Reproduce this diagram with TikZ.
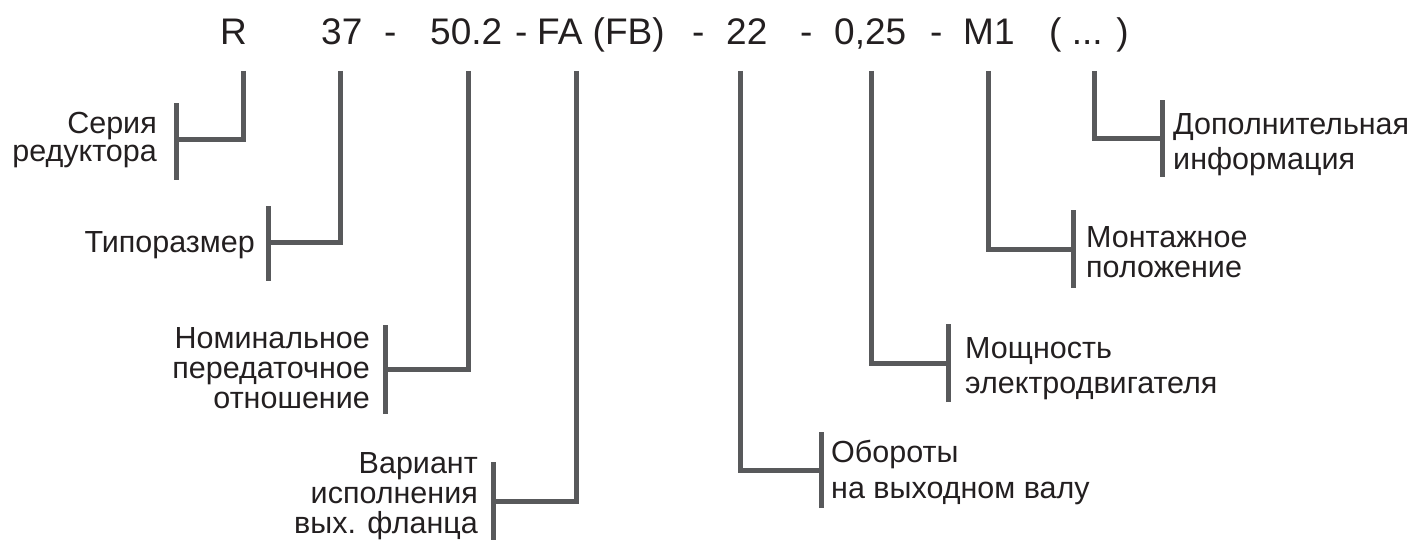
\documentclass[tikz,border=0pt]{standalone}
\usepackage{fontspec}
\setmainfont{Liberation Sans}
\definecolor{leadgray}{RGB}{88,89,91}
\definecolor{inkblack}{RGB}{35,31,32}
\usepackage{tikz}
\usetikzlibrary{positioning}

\begin{document}
\begin{tikzpicture}[x=1pt, y=-1pt,
    code/.style={font=\fontsize{37}{40}\selectfont, inner sep=0pt, anchor=base west, text=inkblack},
    lbl/.style={font=\fontsize{30.5}{#1}\selectfont, inner sep=0pt, text=inkblack},
    lead/.style={draw=leadgray, line width=5pt}]
        \useasboundingbox (0,0) rectangle (1417,540);

        % Designation
        \node[code] (ser) at (220,45) {R};
        \node[code] (size) at (321,45) {37};
        \node[code] (d1) at (384,45) {-};
        \node[code] (ratio) at (430,45) {50.2};
        \node[code] (d2) at (515,45) {-};
        \node[code] (flange) at (537,45) {FA (FB)};
        \node[code] (d3) at (692,45) {-};
        \node[code] (speed) at (726,45) {22};
        \node[code] (d4) at (800,45) {-};
        \node[code] (power) at (834,45) {0,25};
        \node[code] (d5) at (930,45) {-};
        \node[code] (mount) at (963,45) {M1};
        \node[code] (extra) at (1049,45) {( ... )};

        % Labels (base = last line)
        \node[lbl=28, align=right, anchor=base east] (serlbl) at (157,162) {Серия\\редуктора};
        \node[lbl=30, anchor=base east] (sizelbl) at (255,253) {Типоразмер};
        \node[lbl=30, align=right, anchor=base east] (ratiolbl) at (370,408) {Номинальное\\передаточное\\отношение};
        \node[lbl=30, align=right, anchor=base east] (flangelbl) at (478,533) {Вариант\\исполнения\\вых. фланца};
        \node[lbl=36, align=left, anchor=base west] (speedlbl) at (831,498) {Обороты\\на выходном валу};
        \node[lbl=35, align=left, anchor=base west] (powerlbl) at (965,393) {Мощность\\электродвигателя};
        \node[lbl=29, align=left, anchor=base west] (mountlbl) at (1086,277) {Монтажное\\положение};
        \node[lbl=35, align=left, anchor=base west] (extralbl) at (1173,170) {Дополнительная\\информация};

        % Lead tops and brackets
        \coordinate (sertop) at (243,71);
        \coordinate (sizetop) at (340,71);
        \coordinate (ratiotop) at (468,71);
        \coordinate (flangetop) at (576,71);
        \coordinate (speedtop) at (740,71);
        \coordinate (powertop) at (871,71);
        \coordinate (mounttop) at (988,71);
        \coordinate (extratop) at (1094,71);

        \coordinate (serbar) at (176,140);
        \coordinate (sizebar) at (268,243);
        \coordinate (ratiobar) at (385,369);
        \coordinate (flangebar) at (493,501);
        \coordinate (speedbar) at (821,470);
        \coordinate (powerbar) at (948,363);
        \coordinate (mountbar) at (1073,250);
        \coordinate (extrabar) at (1162,139);

        % Leads
        \draw[lead] (sertop) |- (serbar);
        \draw[lead] (sizetop) |- (sizebar);
        \draw[lead] (ratiotop) |- (ratiobar);
        \draw[lead] (flangetop) |- (flangebar);
        \draw[lead] (speedtop) |- (speedbar);
        \draw[lead] (powertop) |- (powerbar);
        \draw[lead] (mounttop) |- (mountbar);
        \draw[lead] (extratop) |- (extrabar);

        % Bars
        \draw[lead] ([yshift=-40]serbar) -- ([yshift=37]serbar);
        \draw[lead] ([yshift=-38]sizebar) -- ([yshift=37]sizebar);
        \draw[lead] ([yshift=-45]ratiobar) -- ([yshift=44]ratiobar);
        \draw[lead] ([yshift=-47]flangebar) -- ([yshift=39]flangebar);
        \draw[lead] ([yshift=-38]speedbar) -- ([yshift=38]speedbar);
        \draw[lead] ([yshift=-39]powerbar) -- ([yshift=39]powerbar);
        \draw[lead] ([yshift=-38]mountbar) -- ([yshift=40]mountbar);
        \draw[lead] ([yshift=-38]extrabar) -- ([yshift=39]extrabar);
      \end{tikzpicture}
\end{document}
